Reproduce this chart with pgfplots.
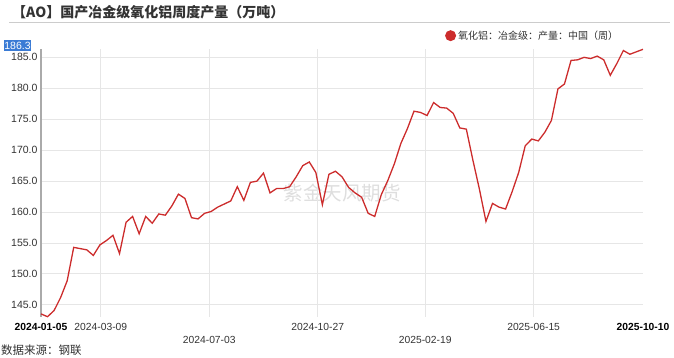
\documentclass[border=0pt]{standalone}
\usepackage{pgfplots}
\pgfplotsset{compat=1.18}
\usepackage{fontspec}
\setmainfont{Liberation Sans}
\newfontfamily\cjk{Noto Sans CJK SC}
\definecolor{linered}{RGB}{204,44,44}
\definecolor{gridgray}{RGB}{230,230,230}
\definecolor{axisgray}{RGB}{170,170,170}
\definecolor{txt}{RGB}{51,51,51}
\definecolor{selblue}{RGB}{58,123,213}
\pgfplotstableread{
x y
0 143.55
7 143.1
14 144.1
21 146.2
28 148.9
35 154.3
42 154.1
49 153.9
56 153.0
63 154.7
70 155.4
77 156.25
84 153.3
91 158.35
98 159.3
105 156.5
112 159.3
119 158.2
126 159.7
133 159.5
140 161.0
147 162.9
154 162.2
161 159.1
168 158.9
175 159.8
182 160.1
189 160.8
196 161.3
203 161.8
210 164.1
217 161.9
224 164.8
231 165.0
238 166.3
245 163.1
252 163.8
259 163.8
266 164.1
273 165.7
280 167.5
287 168.1
294 166.4
301 161.2
308 166.1
315 166.6
322 165.7
329 164.0
336 163.1
343 162.4
350 159.8
357 159.3
364 162.8
371 165.1
378 167.8
385 171.1
392 173.5
399 176.3
406 176.1
413 175.6
420 177.7
427 176.9
434 176.8
441 175.95
448 173.6
455 173.4
462 168.4
469 163.7
476 158.5
483 161.4
490 160.8
497 160.5
504 163.3
511 166.4
518 170.7
525 171.8
532 171.5
539 172.9
546 174.8
553 179.9
560 180.7
567 184.5
574 184.6
581 185.0
588 184.8
595 185.2
602 184.6
609 182.1
616 184.0
623 186.1
630 185.5
637 185.9
644 186.3
}\aodata
\begin{document}
\begin{tikzpicture}
\useasboundingbox (0pt,0pt) rectangle (674pt,357pt);
% title
\node[anchor=west, inner sep=0pt, text=txt, font=\cjk\bfseries\fontsize{14}{16}\selectfont] at (12pt,344.3pt) {【AO】国产冶金级氧化铝周度产量（万吨）};
\draw[color=black!20, line width=1pt] (9pt,334pt) -- (670pt,334pt);
% watermark
\node[text=black!13, font=\cjk\fontsize{19.5}{21}\selectfont, inner sep=0pt] at (342pt,164pt) {紫金天风期货};
\begin{axis}[
  at={(41pt,40.3pt)}, anchor=south west,
  scale only axis, width=602pt, height=267.4pt,
  xmin=0, xmax=644, ymin=143.1, ymax=186.3,
  clip=false,
  axis lines*=left,
  axis line style={-},
  x axis line style={draw=none},
  y axis line style={draw=axisgray, line width=1.2pt},
  major tick length=0pt,
  ytick={145,150,155,160,165,170,175,180,185},
  yticklabel style={font=\fontsize{10.5}{12}\selectfont, text=txt, /pgf/number format/.cd, fixed, fixed zerofill, precision=1, assume math mode=true},
  xtick={64,296,527},
  xticklabels={2024-03-09,2024-10-27,2025-06-15},
  extra x ticks={180,411},
  extra x tick labels={2024-07-03,2025-02-19},
  xticklabel style={font=\fontsize{10.3}{12}\selectfont, text=txt, yshift=-3pt},
  extra x tick style={xticklabel style={yshift=-12.7pt}, grid=major},
  xmajorgrids, ymajorgrids,
  grid style={draw=gridgray, line width=1pt},
  legend style={at={(0.671,1.051)}, anchor=west, draw=none, fill=none, inner sep=0pt, font=\cjk\fontsize{10}{12}\selectfont, text=txt},
  legend cell align=left,
  legend image code/.code={\fill[linered] (4.5pt,0pt) circle (4.8pt);},
]
\addplot[color=linered, line width=1.3pt, mark=none] table[x=x, y=y] {\aodata};
\addlegendentry{氧化铝：冶金级：产量：中国（周）}
\node[anchor=north, inner sep=0pt, font=\bfseries\fontsize{10.3}{12}\selectfont, text=black] at (axis cs:0,143.1) [yshift=-6.5pt] {2024-01-05};
\node[anchor=north, inner sep=0pt, font=\bfseries\fontsize{10.3}{12}\selectfont, text=black] at (axis cs:644,143.1) [yshift=-6.5pt] {2025-10-10};
\end{axis}
% last value badge
\fill[selblue] (4pt,306pt) rectangle (31pt,317pt);
\node[text=white, font=\fontsize{10.5}{12}\selectfont, inner sep=0pt] at (17.5pt,311.5pt) {186.3};
% source
\node[anchor=west, inner sep=0pt, text=txt, font=\cjk\fontsize{11.5}{13}\selectfont] at (1pt,7pt) {数据来源：钢联};
\end{tikzpicture}
\end{document}
